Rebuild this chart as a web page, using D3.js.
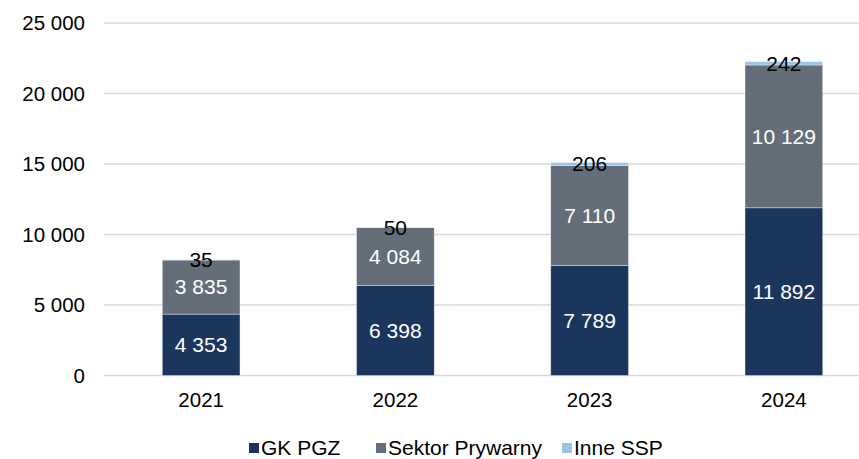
<!DOCTYPE html>
<html>
<head>
<meta charset="utf-8">
<script src="https://cdn.jsdelivr.net/npm/d3@7"></script>
<style>
  body { margin: 0; background: #fff; }
  text { font-family: "Liberation Sans", Arial, sans-serif; }
</style>
</head>
<body>
<svg id="chart" width="859" height="459"></svg>
<script>
// Chart data
const years = ["2021", "2022", "2023", "2024"];
const seriesNames = ["GK PGZ", "Sektor Prywarny", "Inne SSP"];
const gkPgz = [4353, 6398, 7789, 11892];
const sektorPrywarny = [3835, 4084, 7110, 10129];
const inneSsp = [35, 50, 206, 242];
const yTicks = [0, 5000, 10000, 15000, 20000, 25000];

const colors = ["#1b365d", "#646e78", "#9dc3e6"];
const labelColors = ["#ffffff", "#ffffff", "#000000"];
const fontSize = "21px";

const svg = d3.select("#chart");
const fmt = (v) => d3.format(",")(v).replace(/,/g, " ");

// Scales
const x = d3.scaleBand()
  .domain(years)
  .range([104, 881])
  .paddingInner(0.6)
  .paddingOuter(0.3);

const y = d3.scaleLinear()
  .domain([0, 25000])
  .range([375.5, 23]);

// Gridlines
svg.append("g")
  .selectAll("line")
  .data(yTicks)
  .join("line")
  .attr("x1", 104)
  .attr("x2", 859)
  .attr("y1", (d) => y(d))
  .attr("y2", (d) => y(d))
  .attr("stroke", "#d9d9d9")
  .attr("stroke-width", 1.3);

// Y axis labels
const yAxis = svg.append("g")
  .attr("transform", "translate(85,0)")
  .call(d3.axisLeft(y).tickValues(yTicks).tickFormat(fmt).tickSize(0).tickPadding(0));
yAxis.select(".domain").remove();
yAxis.selectAll("text")
  .style("font-size", "20.5px")
  .style("font-family", "Liberation Sans, Arial, sans-serif")
  .attr("fill", "#000");

// Stack the data
const table = years.map((yr, i) => ({
  year: yr,
  "GK PGZ": gkPgz[i],
  "Sektor Prywarny": sektorPrywarny[i],
  "Inne SSP": inneSsp[i],
}));
const stacked = d3.stack().keys(seriesNames)(table);

const layers = svg.append("g")
  .selectAll("g")
  .data(stacked)
  .join("g")
  .attr("fill", (d, i) => colors[i]);

layers.selectAll("rect")
  .data((d) => d)
  .join("rect")
  .attr("x", (d) => x(d.data.year))
  .attr("width", x.bandwidth())
  .attr("y", (d) => y(d[1]))
  .attr("height", (d) => y(d[0]) - y(d[1]))
  .attr("stroke", "#ffffff")
  .attr("stroke-width", 0.6)
  .attr("stroke-opacity", 0.6);

// Value labels
stacked.forEach((layer, li) => {
  svg.append("g")
    .selectAll("text")
    .data(layer)
    .join("text")
    .attr("x", (d) => x(d.data.year) + x.bandwidth() / 2)
    .attr("y", (d) => y((d[0] + d[1]) / 2))
    .attr("dy", "0.35em")
    .attr("text-anchor", "middle")
    .attr("fill", labelColors[li])
    .style("font-size", fontSize)
    .text((d) => fmt(d[1] - d[0]));
});

// X axis labels
const xAxis = svg.append("g")
  .attr("transform", "translate(0,392)")
  .call(d3.axisBottom(x).tickSize(0).tickPadding(0));
xAxis.select(".domain").remove();
xAxis.selectAll("text")
  .attr("dy", "0.71em")
  .style("font-size", "20.5px")
  .style("font-family", "Liberation Sans, Arial, sans-serif")
  .attr("fill", "#000");

// Legend
const legendX = [249, 376, 562];
const legend = svg.append("g")
  .selectAll("g")
  .data(seriesNames)
  .join("g")
  .attr("transform", (d, i) => `translate(${legendX[i]}, 448)`);

legend.append("rect")
  .attr("x", 0)
  .attr("y", -5)
  .attr("width", 10)
  .attr("height", 10)
  .attr("fill", (d, i) => colors[i]);

legend.append("text")
  .attr("x", 12)
  .attr("y", 0)
  .attr("dy", "0.35em")
  .style("font-size", fontSize)
  .attr("fill", "#000")
  .text((d) => d);
</script>
</body>
</html>
